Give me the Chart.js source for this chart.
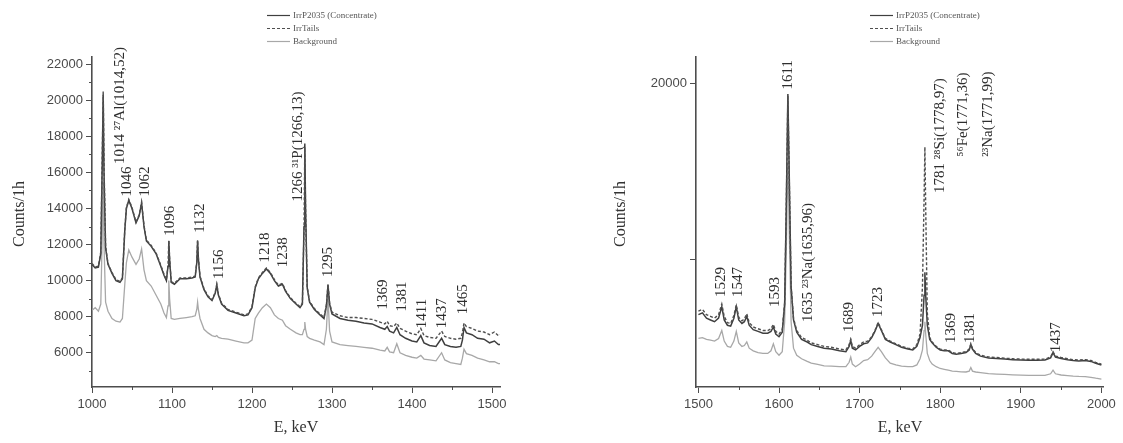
<!DOCTYPE html>
<html>
<head>
<meta charset="utf-8">
<script src="https://cdn.jsdelivr.net/npm/chart.js@4.4.1/dist/chart.umd.min.js"></script>
<style>
html, body { margin: 0; padding: 0; background: #fff; }
#wrap { position: relative; width: 1123px; height: 443px; overflow: hidden; }
canvas { position: absolute; top: 0; }
#left { left: 0; }
#right { left: 560px; }
</style>
</head>
<body>
<div id="wrap">
  <canvas id="left" width="560" height="443"></canvas>
  <canvas id="right" width="563" height="443"></canvas>
</div>
<script>
// Spectra, 1000-1510 keV (left) and 1500-2000 keV (right)
const LEGEND = ['IrrP2035 (Concentrate)', 'IrrTails', 'Background'];

const L_E = [1000,1004,1008,1011,1013,1014,1015,1017,1020,1025,1030,1035,1038,1041,1043,1046,1050,1055,1059,1062,1065,1068,1074,1080,1086,1090,1093,1095,1096,1097,1099,1103,1110,1118,1125,1129,1131,1132,1133,1135,1140,1145,1150,1154,1156,1158,1162,1170,1180,1190,1195,1200,1204,1208,1213,1218,1223,1228,1233,1238,1242,1248,1255,1260,1263,1265,1266,1267,1269,1272,1278,1285,1290,1293,1295,1297,1300,1310,1320,1330,1340,1350,1360,1366,1369,1372,1377,1381,1385,1392,1400,1406,1411,1415,1422,1430,1437,1441,1448,1455,1461,1463,1465,1468,1475,1482,1490,1497,1503,1508,1510];
const L_CONC = [10900,10700,10750,11500,17000,20300,16000,11800,10900,10400,10000,9900,10100,12800,14000,14450,14000,13200,13600,14300,13000,12200,11900,11500,10800,10300,10000,10800,12200,11200,9900,9800,10100,10100,10150,10200,11000,12200,11200,10200,9500,9100,8900,9300,9750,9200,8700,8350,8200,8050,8100,8500,9600,10100,10400,10650,10400,10000,9700,9800,9400,9000,8700,8500,8700,13000,17600,14000,9600,8800,8400,8100,7900,8600,9750,8700,8150,7900,7800,7750,7650,7600,7400,7300,7450,7200,7100,7400,7000,6800,6650,6600,6950,6550,6400,6350,6800,6450,6350,6300,6350,6700,7400,7100,7000,6800,6750,6550,6650,6450,6450];
const L_TAILS = [10950,10750,10800,11600,17500,20500,16500,11900,10950,10450,10050,9950,10150,12850,14050,14500,14050,13250,13650,14350,13050,12250,11950,11550,10850,10350,10050,10850,12250,11250,9950,9850,10150,10150,10200,10250,11050,12250,11250,10250,9550,9150,8950,9350,9800,9250,8750,8400,8250,8100,8150,8550,9650,10150,10450,10700,10450,10050,9750,9850,9450,9050,8750,8550,8750,12800,17400,13800,9650,8850,8450,8150,7950,8650,9800,8750,8250,8050,7950,7950,7900,7850,7700,7600,7750,7500,7450,7650,7350,7200,7050,7000,7350,6950,6850,6800,7200,6900,6800,6750,6800,7100,7650,7450,7350,7200,7150,7000,7150,6950,7000];
const L_BG = [8350,8500,8300,8700,13000,15500,12000,8800,8300,7900,7750,7700,7900,9800,11000,11700,11300,10900,11200,11750,10600,10000,9700,9200,8700,8200,7950,8600,10000,9000,7900,7850,7900,7950,8000,8050,8400,8800,8400,7900,7300,7100,6950,6900,6950,6850,6800,6750,6650,6550,6550,6700,7900,8200,8500,8700,8500,8100,7900,7800,7500,7300,7100,7000,7000,7300,7700,7300,6900,6800,6700,6600,6450,7300,9000,7200,6600,6450,6400,6350,6300,6250,6150,6100,6300,6050,6000,6500,6000,5850,5750,5700,5850,5650,5600,5550,6000,5600,5450,5400,5350,5700,6200,5950,5850,5700,5600,5500,5500,5400,5400];

const R_E = [1500,1505,1510,1515,1520,1525,1529,1532,1536,1540,1544,1547,1550,1554,1557,1560,1563,1568,1574,1580,1586,1590,1593,1596,1600,1604,1607,1609,1611,1613,1615,1618,1622,1628,1635,1640,1648,1656,1665,1675,1683,1687,1689,1691,1695,1700,1705,1710,1715,1719,1723,1727,1732,1738,1745,1752,1760,1766,1771,1775,1778,1780,1781,1782,1784,1787,1790,1795,1800,1805,1810,1815,1820,1826,1832,1836,1838,1840,1844,1850,1860,1870,1880,1890,1900,1910,1920,1930,1937,1940,1943,1950,1958,1965,1972,1980,1987,1993,2000];
const R_CONC = [6900,7000,6700,6600,6500,6700,7350,6600,6300,6250,6700,7350,6600,6400,6500,6800,6300,6050,5950,5850,5850,5950,6200,5800,5650,5900,7500,13000,19400,14000,8500,6600,5900,5500,5350,5200,5100,5000,4950,4850,4800,5100,5450,5000,4900,5100,5250,5300,5600,5950,6400,6000,5500,5350,5200,5050,4950,4900,5100,5600,6300,8000,9300,8000,6300,5500,5300,5050,4900,4850,4850,4700,4650,4700,4750,4900,5200,4950,4700,4550,4450,4420,4380,4350,4330,4320,4320,4330,4450,4750,4500,4420,4350,4300,4280,4300,4250,4150,4050];
const R_TAILS = [7100,7200,6900,6800,6700,6900,7500,6800,6450,6400,6850,7450,6750,6550,6650,6950,6450,6200,6100,6000,6000,6100,6350,5950,5800,6050,7600,13000,19300,13900,8500,6700,6000,5600,5450,5300,5200,5100,5050,4950,4900,5200,5500,5100,5000,5200,5350,5400,5650,6000,6450,6050,5550,5400,5250,5100,5000,4950,5200,5800,8500,13500,16400,13000,7000,5600,5350,5100,4950,4900,4900,4750,4700,4750,4800,4950,5250,5000,4750,4600,4500,4470,4430,4400,4380,4370,4370,4380,4500,4800,4550,4470,4400,4350,4330,4350,4300,4200,4100];
const R_BG = [5550,5600,5500,5450,5400,5550,6000,5400,5100,5050,5400,5950,5300,5100,5150,5350,5000,4850,4750,4700,4700,4850,5250,4800,4600,4800,6500,10500,15500,11000,6500,5000,4600,4400,4250,4150,4080,4000,3980,3950,3950,4200,4500,4100,3950,4100,4300,4350,4550,4800,5050,4800,4450,4150,4050,3980,3950,3950,4050,4400,4900,6000,6500,5800,4700,4300,4100,3950,3850,3800,3750,3700,3680,3660,3650,3700,3900,3700,3650,3620,3560,3530,3510,3490,3470,3460,3460,3460,3550,3750,3550,3480,3450,3420,3400,3390,3350,3300,3250];

// axis ticks
const L_XTICKS = [1000,1100,1200,1300,1400,1500];
const L_XMINOR = [1050,1150,1250,1350,1450];
const L_YTICKS = [6000,8000,10000,12000,14000,16000,18000,20000,22000];
const L_YMINOR = [5000,7000,9000,11000,13000,15000,17000,19000,21000];
const R_XTICKS = [1500,1600,1700,1800,1900,2000];
const R_XMINOR = [1550,1650,1750,1850,1950];
const R_YTICKS = [10000,20000];
const R_YLABELS = ['', '20000'];

// peak labels: text, energy and count where the label starts
const L_PEAK_TEXT = ['1014 \u00b2\u2077Al(1014,52)','1046','1062','1096','1132','1156','1218','1238','1266 \u00b3\u00b9P(1266,13)','1295','1369','1381','1411','1437','1465'];
const L_PEAK_E = [1035,1044,1066,1097.5,1135,1159,1216,1239,1257.5,1295,1364,1387.5,1412.5,1437.5,1464];
const L_PEAK_V = [16460,14670,14670,12490,12650,10090,11010,10740,14390,10200,8400,8290,7360,7360,8130];

const R_PEAK_TEXT = ['1529','1547','1593','1611','1635 \u00b2\u00b3Na(1635,96)','1689','1723','1781 \u00b2\u2078Si(1778,97)','\u2075\u2076Fe(1771,36)','\u00b2\u00b3Na(1771,99)','1369','1381','1437'];
const R_PEAK_E = [1528.5,1549.5,1595,1611,1636,1687,1723,1799.5,1828,1859,1814,1836.6,1944];
const R_PEAK_V = [7900,7900,7330,19660,6480,5910,6760,13800,15850,15850,5290,5290,4770];

const AXIS = '#4d4d4d';
const STYLES = [
  { color: '#3f3f3f', width: 1.5, dash: [] },
  { color: '#4f4f4f', width: 1.4, dash: [3, 2] },
  { color: '#a8a8a8', width: 1.3, dash: [] }
];

function pts(es, vs) {
  return es.map((e, i) => ({ x: e, y: vs[i] }));
}

function buildDatasets(es, conc, tails, bg) {
  return [conc, tails, bg].map((vs, i) => ({
    label: LEGEND[i],
    data: pts(es, vs),
    borderColor: STYLES[i].color,
    borderWidth: STYLES[i].width,
    borderDash: STYLES[i].dash,
    pointRadius: 0,
    tension: 0,
    fill: false,
    order: i === 1 ? 0 : (i === 0 ? 1 : 2)
  }));
}

// minor ticks, rotated peak labels, legend and axis titles
const deco = {
  id: 'deco',
  afterDraw(chart, args, o) {
    const ctx = chart.ctx;
    const xs = chart.scales.x, ys = chart.scales.y;
    ctx.save();
    ctx.strokeStyle = AXIS;
    ctx.lineWidth = 1;
    o.minorX.forEach(v => {
      const px = Math.round(xs.getPixelForValue(v)) + 0.5;
      ctx.beginPath(); ctx.moveTo(px, ys.bottom); ctx.lineTo(px, ys.bottom + 3); ctx.stroke();
    });
    o.minorY.forEach(v => {
      const py = Math.round(ys.getPixelForValue(v)) + 0.5;
      ctx.beginPath(); ctx.moveTo(xs.left, py); ctx.lineTo(xs.left - 3, py); ctx.stroke();
    });

    ctx.fillStyle = '#2e2e2e';
    ctx.font = "15px 'Liberation Serif', serif";
    ctx.textAlign = 'left';
    ctx.textBaseline = 'middle';
    o.peakText.forEach((t, i) => {
      ctx.save();
      ctx.translate(xs.getPixelForValue(o.peakE[i]), ys.getPixelForValue(o.peakV[i]));
      ctx.rotate(-Math.PI / 2);
      ctx.fillText(t, 0, 0);
      ctx.restore();
    });

    // legend
    ctx.font = "9px 'Liberation Serif', serif";
    LEGEND.forEach((t, i) => {
      const y = o.legend.y + i * 13 + 0.5;
      ctx.strokeStyle = STYLES[i].color;
      ctx.lineWidth = 1.2;
      ctx.setLineDash(STYLES[i].dash);
      ctx.beginPath(); ctx.moveTo(o.legend.x, y); ctx.lineTo(o.legend.x + 23, y); ctx.stroke();
      ctx.setLineDash([]);
      ctx.fillStyle = '#555';
      ctx.fillText(t, o.legend.x + 26, y);
    });

    // axis titles
    ctx.fillStyle = '#333';
    ctx.font = "16px 'Liberation Serif', serif";
    ctx.textAlign = 'center';
    ctx.fillText('E, keV', o.xTitle.x, o.xTitle.y);
    ctx.save();
    ctx.translate(o.yTitle.x, o.yTitle.y);
    ctx.rotate(-Math.PI / 2);
    ctx.fillText('Counts/1h', 0, 0);
    ctx.restore();
    ctx.restore();
  }
};

function axisCommon() {
  return {
    type: 'linear',
    grid: { drawOnChartArea: false, drawTicks: true, tickLength: 6, tickColor: AXIS, tickWidth: 1 },
    border: { display: true, color: AXIS, width: 1.6 },
    ticks: { color: '#4a4a4a', font: { family: "'Liberation Sans', Arial, sans-serif", size: 13 } }
  };
}

function makeChart(id, cfg) {
  const xAxis = axisCommon();
  Object.assign(xAxis, { min: cfg.xmin, max: cfg.xmax, position: 'bottom' });
  xAxis.ticks = Object.assign({}, xAxis.ticks, {
    padding: 4, maxRotation: 0, autoSkip: false,
    callback: v => String(v)
  });
  xAxis.afterBuildTicks = s => { s.ticks = cfg.xticks.map(v => ({ value: v })); };
  xAxis.afterFit = s => { s.height = cfg.xHeight; };

  const yAxis = axisCommon();
  Object.assign(yAxis, { min: cfg.ymin, max: cfg.ymax, position: 'left' });
  yAxis.ticks = Object.assign({}, yAxis.ticks, {
    padding: 3, autoSkip: false,
    callback: (v, i) => cfg.ylabels ? cfg.ylabels[i] : String(v)
  });
  yAxis.afterBuildTicks = s => { s.ticks = cfg.yticks.map(v => ({ value: v })); };
  yAxis.afterFit = s => { s.width = cfg.yWidth; };

  return new Chart(document.getElementById(id).getContext('2d'), {
    type: 'line',
    data: { datasets: cfg.datasets },
    options: {
      responsive: false,
      animation: false,
      devicePixelRatio: 1,
      layout: { padding: cfg.padding },
      plugins: { legend: { display: false }, tooltip: { enabled: false }, deco: cfg.deco },
      scales: { x: xAxis, y: yAxis }
    },
    plugins: [deco]
  });
}

makeChart('left', {
  datasets: buildDatasets(L_E, L_CONC, L_TAILS, L_BG),
  xmin: 1000, xmax: 1510, ymin: 4100, ymax: 22400,
  xticks: L_XTICKS, yticks: L_YTICKS,
  yWidth: 92, xHeight: 56,
  padding: { left: 0, top: 57, right: 60, bottom: 0 },
  deco: {
    minorX: L_XMINOR, minorY: L_YMINOR,
    peakText: L_PEAK_TEXT, peakE: L_PEAK_E, peakV: L_PEAK_V,
    legend: { x: 267, y: 15 },
    xTitle: { x: 296, y: 428 },
    yTitle: { x: 20, y: 214 }
  }
});

makeChart('right', {
  datasets: buildDatasets(R_E, R_CONC, R_TAILS, R_BG),
  xmin: 1497, xmax: 2002, ymin: 2800, ymax: 21500,
  xticks: R_XTICKS, yticks: R_YTICKS, ylabels: R_YLABELS,
  yWidth: 136, xHeight: 56,
  padding: { left: 0, top: 57, right: 20, bottom: 0 },
  deco: {
    minorX: R_XMINOR, minorY: [],
    peakText: R_PEAK_TEXT, peakE: R_PEAK_E, peakV: R_PEAK_V,
    legend: { x: 310, y: 15 },
    xTitle: { x: 340, y: 428 },
    yTitle: { x: 61, y: 214 }
  }
});
</script>
</body>
</html>
